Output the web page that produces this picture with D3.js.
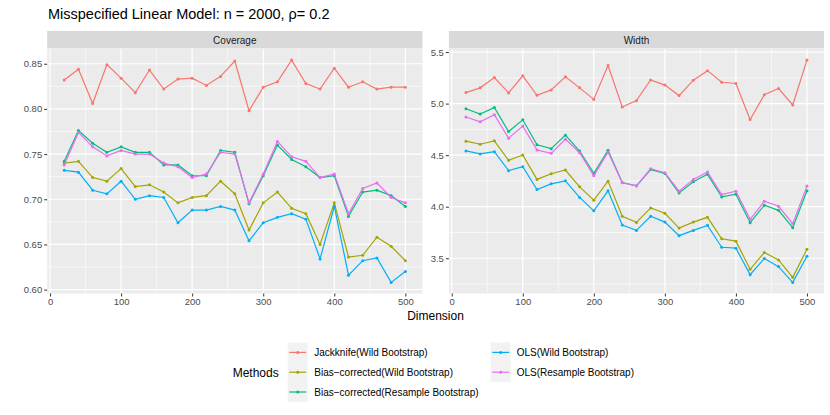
<!DOCTYPE html>
<html>
<head>
<meta charset="utf-8">
<script src="https://cdn.jsdelivr.net/npm/d3@7"></script>
<style>
  body { margin: 0; background: #fff; }
  svg text { font-family: "Liberation Sans", Arial, Helvetica, sans-serif; }
</style>
</head>
<body>
<svg id="chart" width="830" height="415"></svg>
<script>
// data
var dims = [20, 40, 60, 80, 100, 120, 140, 160, 180, 200, 220, 240, 260, 280, 300, 320, 340, 360, 380, 400, 420, 440, 460, 480, 500];

var methods = ["Jackknife(Wild Bootstrap)", "Bias\u2212corrected(Wild Bootstrap)", "Bias\u2212corrected(Resample Bootstrap)", "OLS(Wild Bootstrap)", "OLS(Resample Bootstrap)"];
var colors = ["#F8766D", "#A3A500", "#00BF7D", "#00B0F6", "#E76BF3"];

var coverageJack    = [0.832, 0.844, 0.806, 0.849, 0.834, 0.818, 0.843, 0.822, 0.833, 0.834, 0.826, 0.836, 0.853, 0.798, 0.824, 0.830, 0.854, 0.828, 0.822, 0.845, 0.824, 0.830, 0.822, 0.824, 0.824];
var coverageBCWild  = [0.740, 0.742, 0.724, 0.720, 0.734, 0.714, 0.716, 0.708, 0.696, 0.702, 0.704, 0.720, 0.706, 0.666, 0.696, 0.708, 0.690, 0.684, 0.650, 0.696, 0.636, 0.638, 0.658, 0.648, 0.632];
var coverageBCRes   = [0.742, 0.776, 0.762, 0.752, 0.758, 0.752, 0.752, 0.738, 0.738, 0.726, 0.726, 0.754, 0.752, 0.695, 0.726, 0.760, 0.744, 0.736, 0.724, 0.726, 0.681, 0.708, 0.710, 0.704, 0.692];
var coverageOLSWild = [0.732, 0.730, 0.710, 0.706, 0.720, 0.700, 0.704, 0.702, 0.674, 0.688, 0.688, 0.692, 0.688, 0.654, 0.674, 0.680, 0.684, 0.678, 0.634, 0.692, 0.616, 0.632, 0.635, 0.608, 0.620];
var coverageOLSRes  = [0.738, 0.774, 0.758, 0.748, 0.754, 0.750, 0.750, 0.740, 0.736, 0.724, 0.728, 0.752, 0.750, 0.696, 0.728, 0.764, 0.747, 0.742, 0.724, 0.728, 0.684, 0.712, 0.718, 0.702, 0.696];

var widthJack    = [5.107, 5.153, 5.253, 5.104, 5.270, 5.080, 5.133, 5.260, 5.153, 5.041, 5.370, 4.967, 5.029, 5.230, 5.180, 5.078, 5.227, 5.320, 5.207, 5.195, 4.846, 5.087, 5.146, 4.987, 5.422];
var widthBCWild  = [4.636, 4.606, 4.639, 4.450, 4.502, 4.265, 4.320, 4.356, 4.193, 4.063, 4.248, 3.907, 3.848, 3.988, 3.936, 3.793, 3.851, 3.897, 3.689, 3.666, 3.393, 3.556, 3.484, 3.315, 3.588];
var widthBCRes   = [4.950, 4.899, 4.963, 4.729, 4.843, 4.600, 4.563, 4.694, 4.540, 4.323, 4.548, 4.235, 4.203, 4.360, 4.323, 4.134, 4.242, 4.314, 4.095, 4.122, 3.845, 4.014, 3.965, 3.797, 4.154];
var widthOLSWild = [4.541, 4.512, 4.534, 4.350, 4.388, 4.167, 4.222, 4.251, 4.090, 3.960, 4.154, 3.822, 3.770, 3.907, 3.851, 3.719, 3.770, 3.819, 3.607, 3.598, 3.341, 3.497, 3.419, 3.266, 3.520];
var widthOLSRes  = [4.870, 4.824, 4.892, 4.665, 4.782, 4.550, 4.518, 4.655, 4.524, 4.300, 4.530, 4.232, 4.203, 4.368, 4.329, 4.151, 4.265, 4.336, 4.118, 4.151, 3.878, 4.053, 4.004, 3.836, 4.200];

var xTicks = [0, 100, 200, 300, 400, 500];

var svg = d3.select("#chart");
var panelTop = 49, panelBottom = 293.5;

var panels = [
  { title: "Coverage", series: [coverageJack, coverageBCWild, coverageBCRes, coverageOLSWild, coverageOLSRes], left: 47.2, right: 422.4, fmt: d3.format(".2f") },
  { title: "Width", series: [widthJack, widthBCWild, widthBCRes, widthOLSWild, widthOLSRes], left: 448.9, right: 824, fmt: d3.format(".1f") }
];

// title
svg.append("text")
  .attr("x", 48).attr("y", 19)
  .attr("font-size", "14.5px")
  .attr("fill", "#000")
  .text("Misspecified Linear Model: n = 2000, \u03c1= 0.2");

panels.forEach(function(p) {
  // ggplot style 5% expansion on both axes
  var xr = d3.extent(dims), xpad = (xr[1] - xr[0]) * 0.05;
  var x = d3.scaleLinear().domain([xr[0] - xpad, xr[1] + xpad]).range([p.left, p.right]);
  var all = d3.merge(p.series);
  var yr = d3.extent(all), ypad = (yr[1] - yr[0]) * 0.05;
  var y = d3.scaleLinear().domain([yr[0] - ypad, yr[1] + ypad]).range([panelBottom, panelTop]);

  var yTicks = y.ticks(5);
  var step = yTicks[1] - yTicks[0];
  var yMinor = [];
  yTicks.forEach(function(t) { yMinor.push(t - step / 2); });
  yMinor.push(yTicks[yTicks.length - 1] + step / 2);
  yMinor = yMinor.filter(function(v) { return v >= y.domain()[0] && v <= y.domain()[1]; });
  var xMinor = [];
  for (var i = 1; i < xTicks.length; i++) xMinor.push((xTicks[i - 1] + xTicks[i]) / 2);

  var g = svg.append("g");

  // strip
  g.append("rect")
    .attr("x", p.left).attr("y", 31)
    .attr("width", p.right - p.left).attr("height", panelTop - 31 - 0.5)
    .attr("fill", "#D9D9D9");
  g.append("text")
    .attr("x", (p.left + p.right) / 2).attr("y", 43.5)
    .attr("text-anchor", "middle")
    .attr("font-size", "10px")
    .attr("fill", "#1A1A1A")
    .text(p.title);

  // panel background
  g.append("rect")
    .attr("x", p.left).attr("y", panelTop)
    .attr("width", p.right - p.left).attr("height", panelBottom - panelTop)
    .attr("fill", "#EBEBEB");

  // minor grid
  g.selectAll(".ymin").data(yMinor).enter().append("line")
    .attr("x1", p.left).attr("x2", p.right)
    .attr("y1", function(d) { return y(d); }).attr("y2", function(d) { return y(d); })
    .attr("stroke", "#fff").attr("stroke-width", 0.6);
  g.selectAll(".xmin").data(xMinor).enter().append("line")
    .attr("y1", panelTop).attr("y2", panelBottom)
    .attr("x1", function(d) { return x(d); }).attr("x2", function(d) { return x(d); })
    .attr("stroke", "#fff").attr("stroke-width", 0.6);

  // major grid
  g.selectAll(".ymaj").data(yTicks).enter().append("line")
    .attr("x1", p.left).attr("x2", p.right)
    .attr("y1", function(d) { return y(d); }).attr("y2", function(d) { return y(d); })
    .attr("stroke", "#fff").attr("stroke-width", 1.2);
  g.selectAll(".xmaj").data(xTicks).enter().append("line")
    .attr("y1", panelTop).attr("y2", panelBottom)
    .attr("x1", function(d) { return x(d); }).attr("x2", function(d) { return x(d); })
    .attr("stroke", "#fff").attr("stroke-width", 1.2);

  // axes
  var yAxis = d3.axisLeft(y).tickValues(yTicks).tickFormat(p.fmt).tickSize(3).tickPadding(2);
  var ya = g.append("g").attr("transform", "translate(" + p.left + ",0)").call(yAxis);
  var xAxis = d3.axisBottom(x).tickValues(xTicks).tickSize(3).tickPadding(2);
  var xa = g.append("g").attr("transform", "translate(0," + panelBottom + ")").call(xAxis);
  [ya, xa].forEach(function(a) {
    a.select(".domain").remove();
    a.selectAll(".tick line").attr("stroke", "#333").attr("stroke-width", 1);
    a.selectAll(".tick text").attr("fill", "#4D4D4D").attr("font-size", "9.5px")
      .attr("font-family", "Liberation Sans, Arial, sans-serif");
  });

  // lines and points
  var line = d3.line()
    .x(function(d, i) { return x(dims[i]); })
    .y(function(d) { return y(d); });

  p.series.forEach(function(s, k) {
    g.append("path")
      .datum(s)
      .attr("d", line)
      .attr("fill", "none")
      .attr("stroke", colors[k])
      .attr("stroke-width", 1.2);
    g.selectAll(".pt" + k).data(s).enter().append("circle")
      .attr("cx", function(d, i) { return x(dims[i]); })
      .attr("cy", function(d) { return y(d); })
      .attr("r", 1.5)
      .attr("fill", colors[k]);
  });
});

// x axis title
svg.append("text")
  .attr("x", 435.5).attr("y", 320)
  .attr("text-anchor", "middle")
  .attr("font-size", "12px")
  .attr("fill", "#000")
  .text("Dimension");

// legend
var legend = svg.append("g");
legend.append("text")
  .attr("x", 232.7).attr("y", 377)
  .attr("font-size", "12px")
  .attr("fill", "#000")
  .text("Methods");

var cols = [{ kx: 287.7, lx: 314.3 }, { kx: 490.7, lx: 516.7 }];
var rowY = [342.5, 362.3, 382.1];
methods.forEach(function(m, i) {
  var c = cols[Math.floor(i / 3)], ry = rowY[i % 3];
  legend.append("rect")
    .attr("x", c.kx).attr("y", ry)
    .attr("width", 20).attr("height", 19.8)
    .attr("fill", "#F2F2F2");
  legend.append("line")
    .attr("x1", c.kx + 1.5).attr("x2", c.kx + 18.5)
    .attr("y1", ry + 9.9).attr("y2", ry + 9.9)
    .attr("stroke", colors[i]).attr("stroke-width", 1.2);
  legend.append("circle")
    .attr("cx", c.kx + 10).attr("cy", ry + 9.9)
    .attr("r", 1.5).attr("fill", colors[i]);
  legend.append("text")
    .attr("x", c.lx).attr("y", ry + 13.5)
    .attr("font-size", "10px")
    .attr("fill", "#000")
    .text(m);
});
</script>
</body>
</html>
